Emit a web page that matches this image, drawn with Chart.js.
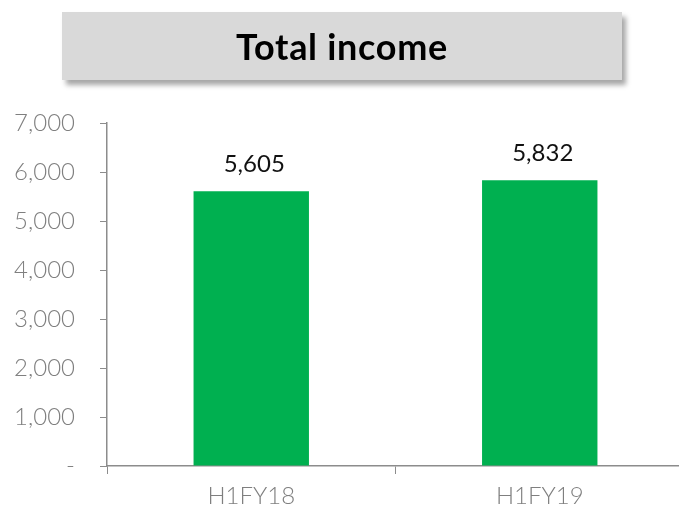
<!DOCTYPE html>
<html>
<head>
<meta charset="utf-8">
<script src="https://cdn.jsdelivr.net/npm/chart.js@4"></script>
<style>
  html, body { margin: 0; padding: 0; background: #fff; overflow: hidden; }
  #wrap { position: relative; width: 679px; height: 512px; overflow: hidden; }
  #box { position: absolute; width: 684px; height: 512px; left: 0; top: 0; }
  #title {
    position: absolute; left: 62px; top: 12px; width: 560px; height: 68px;
    background: #d9d9d9; box-shadow: 4px 5px 5px rgba(0,0,0,0.35);
    font: bold 36px Lato, sans-serif; letter-spacing: 0.7px; color: #000;
    display: flex; align-items: center; justify-content: center;
  }
</style>
</head>
<body>
<div id="wrap">
  <div id="box"><canvas id="chart" width="684" height="512"></canvas></div>
  <div id="title">Total income</div>
</div>
<script>
var categories = ['H1FY18', 'H1FY19'];
var income = [5605, 5832];
var yTicks = [0, 1000, 2000, 3000, 4000, 5000, 6000, 7000];

(function () {
    var axisGray = '#8c8c8c';
    var textGray = '#7f7f7f';
    var font = { family: 'Lato, sans-serif', size: 24, weight: 300 };

    // value above each bar
    var valueLabels = {
        id: 'valueLabels',
        afterDatasetsDraw: function (chart) {
            var ctx = chart.ctx;
            var meta = chart.getDatasetMeta(0);
            ctx.save();
            ctx.font = '24px Lato, sans-serif';
            ctx.fillStyle = '#111';
            ctx.textAlign = 'center';
            ctx.textBaseline = 'alphabetic';
            meta.data.forEach(function (bar, i) {
                ctx.fillText(income[i].toLocaleString('en-US'), bar.x + 3, bar.y - 19);
            });
            ctx.restore();
        }
    };

    new Chart(document.getElementById('chart'), {
        type: 'bar',
        data: {
            labels: categories,
            datasets: [{
                data: income,
                backgroundColor: '#00b050',
                borderWidth: 0,
                categoryPercentage: 1,
                barPercentage: 0.4
            }]
        },
        options: {
            responsive: false,
            animation: false,
            events: [],
            layout: { padding: { top: 123, left: 0, right: 0, bottom: 0 } },
            plugins: { legend: { display: false }, tooltip: { enabled: false } },
            scales: {
                x: {
                    grid: { drawOnChartArea: false, drawTicks: true, tickLength: 8, color: axisGray, offset: true },
                    border: { color: axisGray, width: 1.5 },
                    ticks: { color: textGray, font: font, padding: 8 },
                    afterFit: function (s) { s.height = 46; }
                },
                y: {
                    min: 0,
                    max: 7000,
                    afterBuildTicks: function (s) { s.ticks = yTicks.map(function (v) { return { value: v }; }); },
                    grid: { drawOnChartArea: false, drawTicks: true, tickLength: 7, color: axisGray },
                    border: { color: axisGray, width: 1.5 },
                    ticks: {
                        color: textGray,
                        font: font,
                        padding: 25,
                        callback: function (v) { return v === 0 ? '-' : v.toLocaleString('en-US'); }
                    },
                    afterFit: function (s) { s.width = 107; }
                }
            }
        },
        plugins: [valueLabels]
    });
})();
</script>
</body>
</html>
